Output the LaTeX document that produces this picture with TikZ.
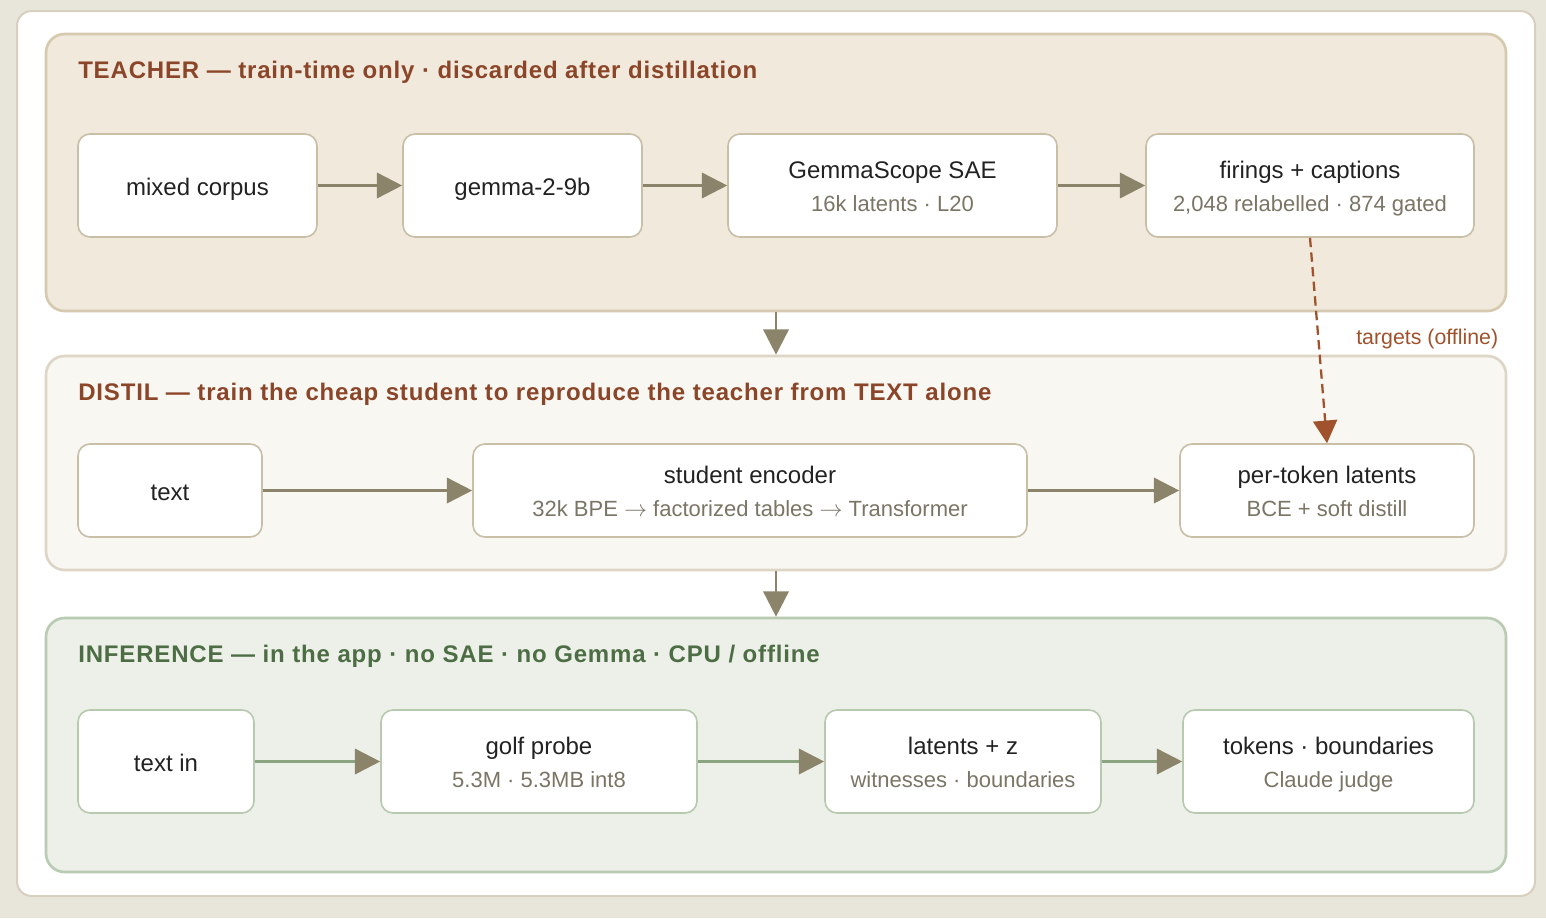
\documentclass[tikz,border=0pt]{standalone}
\usepackage{fontspec}
\setmainfont{Liberation Sans}
\usetikzlibrary{arrows.meta}
\definecolor{bgc}{HTML}{E8E5DA}
\definecolor{cardb}{HTML}{D8D0BE}
\definecolor{tfill}{HTML}{F0E9DC}
\definecolor{tbord}{HTML}{D5CAB0}
\definecolor{dfill}{HTML}{F9F7F2}
\definecolor{dbord}{HTML}{DDD6C6}
\definecolor{ifill}{HTML}{EDF0E8}
\definecolor{ibord}{HTML}{BACBB4}
\definecolor{nbord}{HTML}{C9BEA6}
\definecolor{nibord}{HTML}{B7C9AF}
\definecolor{arr}{HTML}{8B846A}
\definecolor{iarr}{HTML}{8AA47F}
\definecolor{brownt}{HTML}{8B4529}
\definecolor{greent}{HTML}{4D6E45}
\definecolor{dash}{HTML}{A0522D}
\definecolor{subc}{HTML}{7A7565}
\definecolor{mainc}{HTML}{222222}
\newcommand{\subl}[1]{{\fontsize{16.5}{25}\selectfont\color{subc}#1}}
\newcommand{\rarr}{$\rightarrow$}
\tikzset{
  panel/.style={draw=#1, line width=2pt, rounded corners=14pt, inner sep=0pt},
  ttl/.style={anchor=base west, inner sep=0pt, font=\fontsize{18}{22}\selectfont\bfseries\addfontfeatures{LetterSpace=3.5}},
  box/.style={draw=nbord, fill=white, line width=1.2pt, rounded corners=9pt, inner sep=0pt,
     align=center, text=mainc, font=\fontsize{18}{25}\selectfont, text height=14.7pt, text depth=0pt},
  two/.style={text height=39.3pt, text depth=0pt},
  ibox/.style={box, draw=nibord},
  flow/.style={draw=arr, line width=2pt, -{Triangle[length=19pt, width=19pt]}},
  iflow/.style={draw=iarr, line width=2pt, -{Triangle[length=19pt, width=19pt, fill=arr, color=arr]}},
  tgt/.style={draw=dash, line width=1.7pt, dash pattern=on 7pt off 4pt, -{Triangle[length=17pt, width=18pt, fill=dash]}},
  lbl/.style={anchor=base west, inner sep=0pt, text=dash, font=\fontsize{16}{18}\selectfont}
}
\begin{document}
\begin{tikzpicture}[x=0.75pt, y=-0.75pt]
\useasboundingbox (0,0) rectangle (1546,918);
\fill[bgc] (0,0) rectangle (1546,918);
\draw[cardb, fill=white, line width=1.5pt, rounded corners=11pt] (17,11) rectangle (1535,896);

% panels
\node[panel=tbord, fill=tfill, minimum width={1460*0.75pt}, minimum height={277*0.75pt}] (teacher) at (776,172.5) {};
\node[panel=dbord, fill=dfill, minimum width={1460*0.75pt}, minimum height={214*0.75pt}] (distil) at (776,463) {};
\node[panel=ibord, fill=ifill, minimum width={1460*0.75pt}, minimum height={254*0.75pt}] (infer) at (776,745) {};

% titles
\node[ttl, text=brownt] (t1) at (78,78) {TEACHER — train-time only · discarded after distillation};
\node[ttl, text=brownt] (t2) at (78,400) {DISTIL — train the cheap student to reproduce the teacher from TEXT alone};
\node[ttl, text=greent] (t3) at (78,662.5) {INFERENCE — in the app · no SAE · no Gemma · CPU / offline};

% teacher row
\node[box, minimum width={239*0.75pt}, minimum height={103*0.75pt}] (mc) at (197.5,185.5) {mixed corpus};
\node[box, minimum width={239*0.75pt}, minimum height={103*0.75pt}] (gm) at (522.5,185.5) {gemma-2-9b};
\node[box, two, minimum width={329*0.75pt}, minimum height={103*0.75pt}] (gs) at (892.5,185.5) {GemmaScope SAE\\\subl{16k latents · L20}};
\node[box, two, minimum width={328*0.75pt}, minimum height={103*0.75pt}] (fc) at (1310,185.5) {firings + captions\\\subl{2,048 relabelled · 874 gated}};

% distil row
\node[box, minimum width={184*0.75pt}, minimum height={93*0.75pt}] (tx) at (170,490.5) {text};
\node[box, two, minimum width={554*0.75pt}, minimum height={93*0.75pt}] (se) at (750,490.5) {student encoder\\\subl{32k BPE \rarr{} factorized tables \rarr{} Transformer}};
\node[box, two, minimum width={294*0.75pt}, minimum height={93*0.75pt}] (pt) at (1327,490.5) {per-token latents\\\subl{BCE + soft distill}};

% inference row
\node[ibox, minimum width={176*0.75pt}, minimum height={103*0.75pt}] (ti) at (166,761.5) {text in};
\node[ibox, two, minimum width={316*0.75pt}, minimum height={103*0.75pt}] (gp) at (539,761.5) {golf probe\\\subl{5.3M · 5.3MB int8}};
\node[ibox, two, minimum width={276*0.75pt}, minimum height={103*0.75pt}] (lz) at (963,761.5) {latents + z\\\subl{witnesses · boundaries}};
\node[ibox, two, minimum width={291*0.75pt}, minimum height={103*0.75pt}] (tb) at (1328.5,761.5) {tokens · boundaries\\\subl{Claude judge}};

% connectors
\draw[flow] (mc.east) -- (gm.west);
\draw[flow] (gm.east) -- (gs.west);
\draw[flow] (gs.east) -- (fc.west);
\draw[flow] (tx.east) -- (se.west);
\draw[flow] (se.east) -- (pt.west);
\draw[iflow] (ti.east) -- (gp.west);
\draw[iflow] (gp.east) -- (lz.west);
\draw[iflow] (lz.east) -- (tb.west);
\draw[flow] (teacher.south) -- (distil.north);
\draw[flow] (distil.south) -- (infer.north);
\draw[tgt] (fc.south) -- (pt.north);
\node[lbl] (tl) at (1356,344) {targets (offline)};
\end{tikzpicture}
\end{document}
